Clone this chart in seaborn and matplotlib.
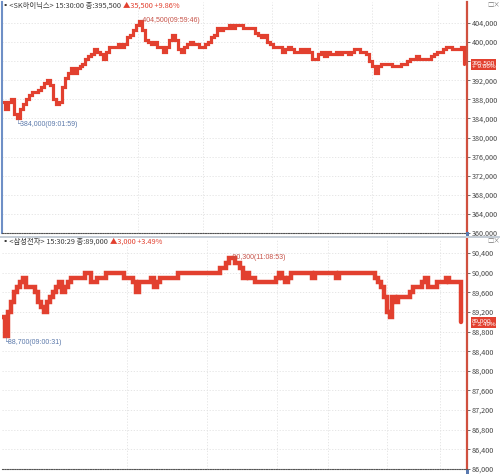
import numpy as np
import pandas as pd
import matplotlib
matplotlib.use("Agg")
import matplotlib.pyplot as plt
import seaborn as sns
from matplotlib.patches import Rectangle
from matplotlib.ticker import FuncFormatter

# ---------------- data ----------------
top_name = "SK하이닉스"
top_time = "15:30:00"
top_change = 35500
top_pct = "9.86%"
top_high_time = "09:59:46"
top_low_time = "09:01:59"
top_prices = [
    387500, 386000, 387500, 388000, 385000, 384000, 386000, 387000, 388000, 389000,
    389500, 389500, 390000, 390500, 391500, 392000, 391000, 388000, 387000, 387500,
    390500, 392500, 393500, 394500, 393500, 394500, 395000, 395500, 396500, 397000,
    397500, 398500, 398000, 397500, 396500, 398000, 399000, 399000, 399000, 399500,
    399000, 399500, 401000, 401500, 402500, 403500, 404500, 402500, 400500, 400000,
    399500, 400000, 399000, 399000, 398000, 399000, 400500, 401500, 400500, 398500,
    398000, 399000, 399500, 400000, 399500, 399500, 399000, 399000, 399500, 400000,
    401000, 401500, 403000, 402500, 403000, 403000, 403500, 403000, 403500, 403500,
    403500, 403000, 403000, 403000, 403000, 402000, 401500, 401000, 401500, 400000,
    399500, 399000, 399000, 399000, 398000, 398500, 399000, 398500, 398000, 398000,
    398500, 398000, 398500, 398000, 396500, 396500, 397500, 398000, 397000, 398000,
    397500, 397500, 398000, 397500, 398000, 398000, 397500, 398000, 398500, 398500,
    398000, 398000, 397500, 396000, 395000, 393500, 395000, 395500, 395500, 395500,
    395500, 395000, 395000, 395000, 395500, 395500, 396000, 396500, 396500, 397000,
    396500, 396500, 396500, 396500, 397000, 397500, 398000, 398000, 398500, 399000,
    399000, 398500, 398500, 398500, 399000, 395500,
]
top_yticks = list(range(360000, 404001, 4000))
top_vgrid = [45.6, 67.4, 90.6, 106.0, 124.2, 146.3]

bot_name = "삼성전자"
bot_time = "15:30:29"
bot_change = 3000
bot_pct = "3.49%"
bot_high_time = "11:08:53"
bot_low_time = "09:00:31"
bot_prices = [
    89100, 88700, 89200, 89400, 89600, 89700, 89800, 89900, 89700, 89700,
    89700, 89600, 89400, 89300, 89200, 89400, 89500, 89600, 89700, 89800,
    89600, 89700, 89800, 89900, 89900, 89900, 89900, 89900, 90000, 90000,
    89800, 89800, 89900, 89900, 89900, 90000, 90000, 90000, 90000, 90000,
    90000, 89900, 89900, 89900, 89800, 89600, 89800, 89800, 89800, 89800,
    89900, 89700, 89800, 89900, 89900, 89900, 89900, 89900, 89900, 90000,
    90000, 90000, 90000, 90000, 90000, 90000, 90000, 90000, 90000, 90000,
    90000, 90000, 90000, 90100, 90100, 90200, 90300, 90300, 90200, 90200,
    90100, 89900, 90000, 89900, 89900, 89800, 89800, 89800, 89800, 89800,
    89800, 89800, 89900, 90000, 89900, 89800, 89900, 90000, 90000, 90000,
    90000, 90000, 90000, 90000, 89900, 90000, 90000, 90000, 90000, 90000,
    90000, 90000, 89900, 90000, 90000, 90000, 90000, 90000, 90000, 90000,
    90000, 90000, 90000, 90000, 90000, 89900, 89800, 89700, 89500, 89200,
    89100, 89500, 89400, 89500, 89500, 89500, 89500, 89600, 89700, 89700,
    89700, 89800, 89900, 89700, 89700, 89700, 89800, 89800, 89800, 89900,
    89800, 89800, 89800, 89800, 89000,
]
bot_yticks = list(range(86000, 90401, 400))
bot_vgrid = [42.0, 68.8, 92.3, 109.4, 129.2, 147.0]

# ---------------- style ----------------
RED = "#e2402f"
AX_RED = "#d0503f"
HI_COL = "#c65248"
LO_COL = "#5a78aa"
TXT = "#3a3a3a"
GRID = "#e2e2e2"

sns.set_theme(style="white")
plt.rcParams["font.family"] = ["Noto Sans CJK KR", "DejaVu Sans"]

W, H = 500, 474
fig = plt.figure(figsize=(W / 100, H / 100), dpi=100)
fig.patch.set_facecolor("white")


def px_axes(l, t, r, b):
    return fig.add_axes([l / W, 1 - b / H, (r - l) / W, (b - t) / H])


ax1 = px_axes(2, 2, 467, 233)
ax2 = px_axes(2, 239, 467, 469)


def draw_panel(ax, prices, yticks, ylim, vgrid, lw, name, tm, change, pct,
               hi_time, lo_time, left_blue, head_y_px):
    last = prices[-1]
    step = yticks[1] - yticks[0]

    def fmt_fn(v, p):
        # the last-price box covers a label lying right under it
        if abs(v - last) < 0.3 * step:
            return ""
        return f"{int(round(v)):,}"

    df = pd.DataFrame({"i": np.arange(len(prices)), "price": prices})
    sns.lineplot(data=df, x="i", y="price", ax=ax, color=RED, lw=lw,
                 drawstyle="steps-post", estimator=None, sort=False,
                 solid_joinstyle="miter")
    ax.set_xlim(0, 156)
    ax.set_ylim(*ylim)
    ax.set_xlabel("")
    ax.set_ylabel("")
    ax.set_yticks(yticks)
    ax.yaxis.set_major_formatter(FuncFormatter(fmt_fn))
    ax.yaxis.tick_right()
    ax.tick_params(axis="y", which="major", right=True, length=2, width=0.6,
                   color="#555555", labelsize=5.2, labelcolor="#444444", pad=1.5)
    ax.set_xticks(vgrid)
    ax.tick_params(axis="x", bottom=False, labelbottom=False)
    ax.grid(True, axis="both", color=GRID, lw=0.6, ls=(0, (1.5, 2)))
    ax.spines["top"].set_visible(False)
    ax.spines["right"].set_color(AX_RED)
    ax.spines["right"].set_linewidth(1.6)
    ax.spines["bottom"].set_color("#555555")
    ax.spines["bottom"].set_linestyle((0, (1, 1.2)))
    ax.spines["bottom"].set_linewidth(0.8)
    if left_blue:
        ax.spines["left"].set_color("#6e8fc6")
        ax.spines["left"].set_linewidth(1.5)
    else:
        ax.spines["left"].set_visible(False)

    # header
    t1 = fig.text(2 / W, 1 - head_y_px / H,
                  f"\u25aa<{name}> {tm} 종:{last:,} ",
                  fontsize=5.3, color=TXT, ha="left", va="center")
    ax.annotate(f"▲{change:,} +{pct}", xy=(1, 0.5), xycoords=t1,
                ha="left", va="center", fontsize=5.3, color=RED)
    fig.text(487 / W, 1 - (head_y_px - 1) / H, "□×", fontsize=4.6,
             color="#777777", ha="left", va="center")

    # high / low annotations
    imax = int(np.argmax(prices))
    imin = int(np.argmin(prices))
    ax.annotate(f"-{prices[imax]:,}({hi_time})", xy=(imax, prices[imax]),
                xytext=(2, 0), textcoords="offset pixels", ha="left",
                va="center", fontsize=5.0, color=HI_COL,
                family=["Liberation Sans", "DejaVu Sans"])
    ax.annotate(f"└{prices[imin]:,}({lo_time})", xy=(imin, prices[imin]),
                xytext=(-1, -1), textcoords="offset pixels", ha="left",
                va="top", fontsize=5.0, color=LO_COL,
                family=["Liberation Sans", "DejaVu Sans"])

    # last-price box
    ax.annotate(f"{last:,}\n+ {pct}", xy=(1, last),
                xycoords=("axes fraction", "data"), xytext=(5, -1),
                textcoords="offset pixels", ha="left", va="center",
                fontsize=4.6, color="white", linespacing=0.85,
                family=["Liberation Sans", "DejaVu Sans"],
                bbox=dict(boxstyle="square,pad=0.12", fc=RED, ec="none"),
                annotation_clip=False, zorder=10)


draw_panel(ax1, top_prices, top_yticks, (360000, 408400), top_vgrid, 2.3,
           top_name, top_time, top_change, top_pct, top_high_time, top_low_time,
           True, 6)
draw_panel(ax2, bot_prices, bot_yticks, (86000, 90685), bot_vgrid, 3.2,
           bot_name, bot_time, bot_change, bot_pct, bot_high_time, bot_low_time,
           False, 242)

# panel separator and small axis-end markers
fig.add_artist(Rectangle((0, 1 - 238 / H), 1, 2 / H, transform=fig.transFigure,
                         fc="#c5cdd6", ec="none"))
for ybot in (236, 474):
    fig.add_artist(Rectangle((466 / W, 1 - ybot / H), 3 / W, 4 / H,
                             transform=fig.transFigure, fc="#5a7ab0", ec="none"))

fig.savefig("out.png", dpi=100)
